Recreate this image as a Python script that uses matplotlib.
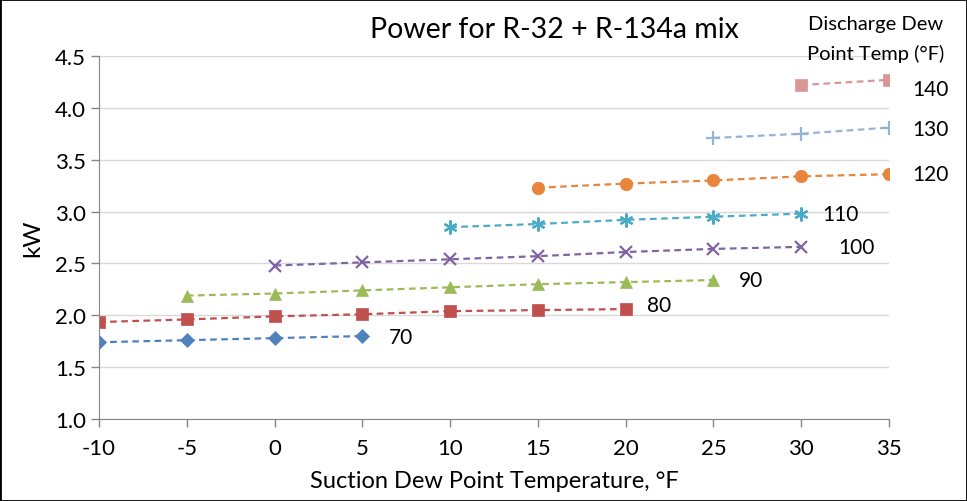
import matplotlib.pyplot as plt

plt.rcParams['font.family'] = ['Lato', 'DejaVu Sans']
plt.rcParams['axes.unicode_minus'] = False

# suction dew point temps (F) and power (kW) per discharge temp
x_70 = [-10, -5, 0, 5]
kw_70 = [1.74, 1.76, 1.78, 1.80]
x_80 = [-10, -5, 0, 5, 10, 15, 20]
kw_80 = [1.935, 1.96, 1.99, 2.01, 2.04, 2.05, 2.06]
x_90 = [-5, 0, 5, 10, 15, 20, 25]
kw_90 = [2.19, 2.21, 2.24, 2.27, 2.30, 2.32, 2.34]
x_100 = [0, 5, 10, 15, 20, 25, 30]
kw_100 = [2.48, 2.51, 2.54, 2.57, 2.61, 2.64, 2.66]
x_110 = [10, 15, 20, 25, 30]
kw_110 = [2.85, 2.88, 2.92, 2.95, 2.98]
x_120 = [15, 20, 25, 30, 35]
kw_120 = [3.23, 3.27, 3.30, 3.34, 3.36]
x_130 = [25, 30, 35]
kw_130 = [3.71, 3.75, 3.81]
x_140 = [30, 35]
kw_140 = [4.22, 4.27]

series = [
    ('70', x_70, kw_70, '#4F81BD', 'D', 7),
    ('80', x_80, kw_80, '#C0504D', 's', 9),
    ('90', x_90, kw_90, '#9BBB59', '^', 9),
    ('100', x_100, kw_100, '#8064A2', 'x', 9),
    ('110', x_110, kw_110, '#4BACC6', (6, 2, 0), 10),
    ('120', x_120, kw_120, '#E8853D', 'o', 9),
    ('130', x_130, kw_130, '#95B3D7', '+', 10),
    ('140', x_140, kw_140, '#D99694', 's', 9),
]

# end-label offsets in pixels (manual placement like the original)
label_off = {'70': (27, -1), '80': (21, 4), '90': (25, 0), '100': (37, 0),
             '110': (21, 0), '120': (23, 0), '130': (23, -1), '140': (23, -9)}

fig = plt.figure(figsize=(9.67, 5.02), dpi=100)
ax = fig.add_axes([0.1024, 0.1633, 0.817, 0.7232])

for name, xs, ys, col, mk, ms in series:
    ax.plot(xs, ys, linestyle=(0, (3, 2)), color=col, lw=1.6, marker=mk,
            markersize=ms, markeredgewidth=1.6 if mk in ('x', '+', (6, 2, 0)) else 0.5,
            markeredgecolor=col, markerfacecolor=col)
    ax.annotate(name, (xs[-1], ys[-1]), xytext=label_off[name], textcoords='offset pixels',
                fontsize=15, va='center', ha='left', annotation_clip=False)

ax.text(0.9835, 1.048, 'Discharge Dew\nPoint Temp (\u00b0F)', transform=ax.transAxes,
        fontsize=14.5, ha='center', va='center', linespacing=1.75)

ax.set_xlim(-10, 35)
ax.set_ylim(1.0, 4.5)
ax.set_xticks(range(-10, 36, 5))
ax.set_yticks([1.0, 1.5, 2.0, 2.5, 3.0, 3.5, 4.0, 4.5])
ax.set_yticklabels(['%.1f' % v for v in ax.get_yticks()])
ax.grid(axis='y', color='#D9D9D9', lw=1)
ax.set_axisbelow(True)
for s in ['top', 'right']:
    ax.spines[s].set_visible(False)
for s in ['left', 'bottom']:
    ax.spines[s].set_color('#868686')
ax.tick_params(colors='#868686', labelcolor='black', labelsize=16, length=6, width=1)
ax.tick_params(axis='x', pad=8)
ax.set_xlabel('Suction Dew Point Temperature, \u00b0F', fontsize=17, labelpad=8)
ax.set_ylabel('kW', fontsize=17.5, labelpad=8)
ax.set_title('Power for R-32 + R-134a mix', fontsize=20.5, x=0.576, y=1.0, pad=14)

fig.patches.append(plt.Rectangle((0, 0), 1, 1, transform=fig.transFigure,
                                 fill=False, edgecolor='black', lw=2))
fig.savefig('out.png')
